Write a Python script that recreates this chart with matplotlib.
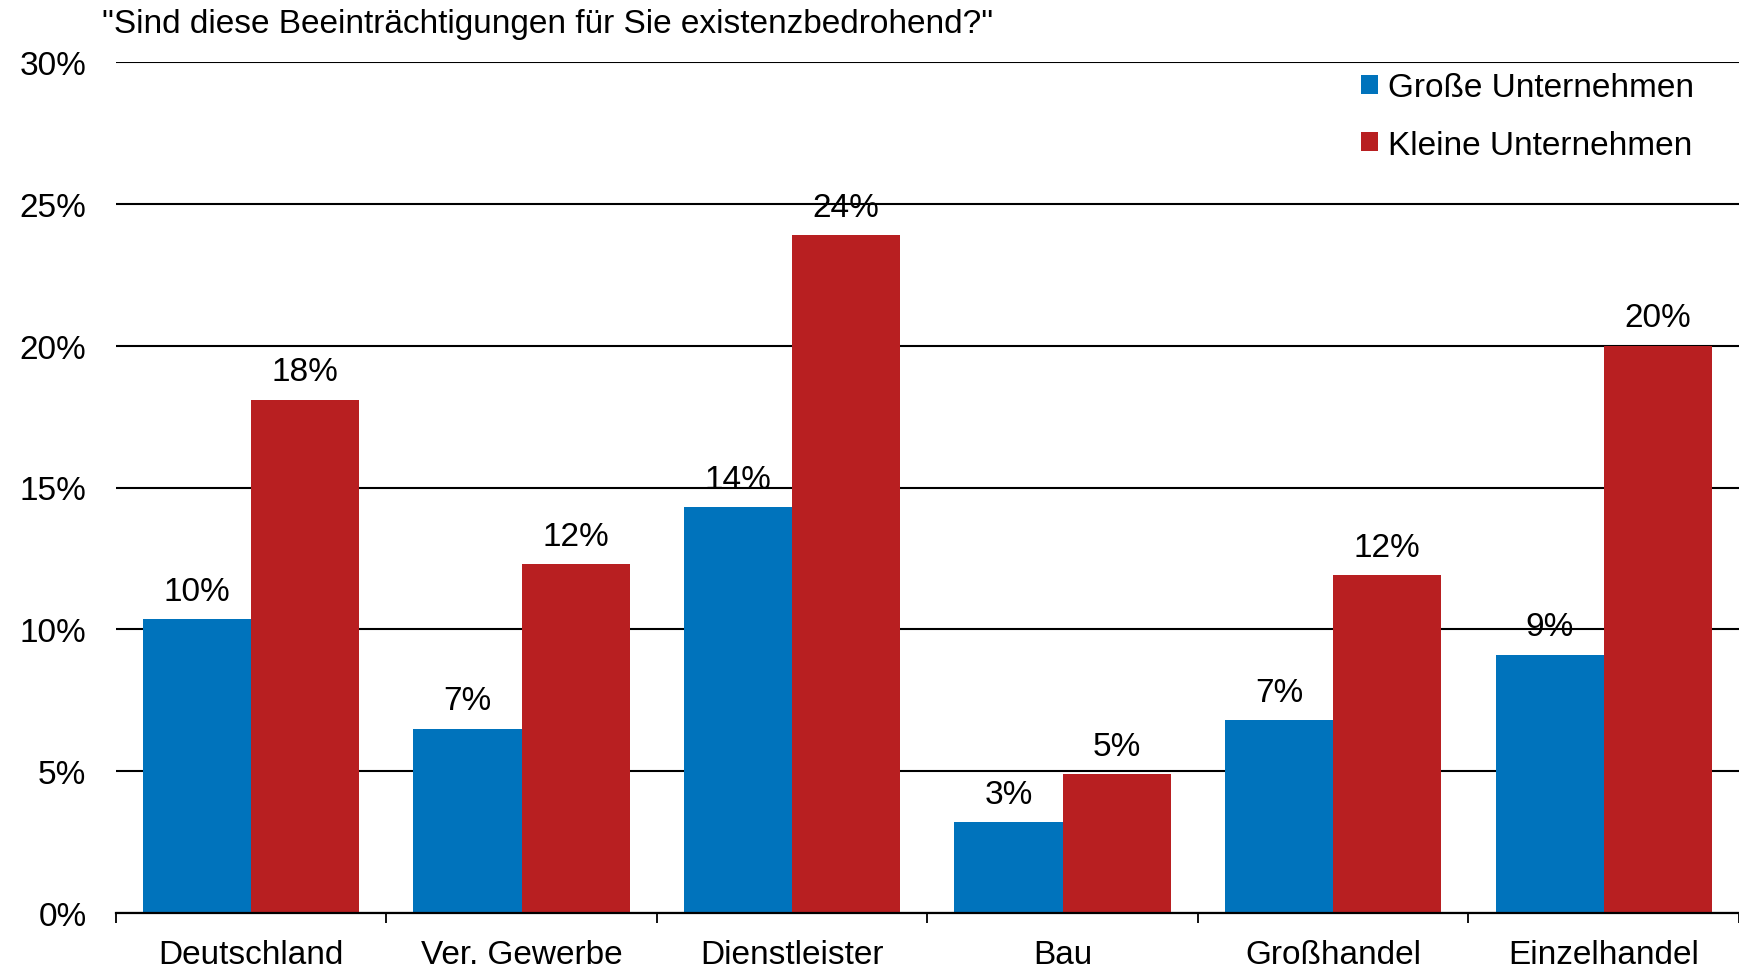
import matplotlib
matplotlib.use("Agg")
import matplotlib.pyplot as plt
from matplotlib.patches import Patch
import numpy as np

plt.rcParams['font.family'] = ['Liberation Sans', 'DejaVu Sans']

title = '"Sind diese Beeinträchtigungen für Sie existenzbedrohend?"'
categories = ["Deutschland", "Ver. Gewerbe", "Dienstleister", "Bau", "Großhandel", "Einzelhandel"]
series_names = ["Große Unternehmen", "Kleine Unternehmen"]
gross = [10.35, 6.5, 14.3, 3.2, 6.8, 9.1]
klein = [18.1, 12.3, 23.9, 4.9, 11.9, 20.0]
gross_labels = ["10%", "7%", "14%", "3%", "7%", "9%"]
klein_labels = ["18%", "12%", "24%", "5%", "12%", "20%"]
yticks = [0, 5, 10, 15, 20, 25, 30]
ytick_labels = ["0%", "5%", "10%", "15%", "20%", "25%", "30%"]

blue = "#0073BC"
red = "#B81F21"
FS = 24

fig = plt.figure(figsize=(17.39, 9.70), dpi=100)
ax = fig.add_axes([115.7/1739, 1-914/970, (1739-115.7)/1739, (914-63)/970])

x = np.arange(len(categories))
w = 0.4
b1 = ax.bar(x - w/2, gross, width=w, color=blue, zorder=1)
b2 = ax.bar(x + w/2, klein, width=w, color=red, zorder=1)

for rects, labs in ((b1, gross_labels), (b2, klein_labels)):
    for r, lab in zip(rects, labs):
        ax.annotate(lab, (r.get_x() + r.get_width()/2, r.get_height()),
                    xytext=(0, 14), textcoords="offset points",
                    ha="center", va="baseline", fontsize=FS, zorder=0.3)

ax.set_xlim(-0.5, 5.468)
ax.set_ylim(0, 30)
ax.set_yticks(yticks)
ax.set_yticklabels(ytick_labels)
ax.set_axisbelow(True)
ax.yaxis.grid(True, color="black", linewidth=1.5)
ax.tick_params(axis="y", length=0, pad=21, labelsize=FS)

ax.set_xticks(x)
ax.set_xticklabels(categories)
ax.set_xticks(np.arange(len(categories) + 1) - 0.5, minor=True)
ax.tick_params(axis="x", which="major", length=0, pad=19, labelsize=FS)
ax.tick_params(axis="x", which="minor", length=7, width=1.3, color="black")

for s in ("top", "left", "right"):
    ax.spines[s].set_visible(False)
ax.spines["bottom"].set_linewidth(1.6)
ax.spines["bottom"].set_zorder(3)

fig.text(102/1739, 1 - 24/970, title, fontsize=FS, ha="left", va="center")

handles = [Patch(facecolor=blue), Patch(facecolor=red)]
leg = fig.legend(handles, series_names, loc="upper left",
                 bbox_to_anchor=(1361/1739, 1 - 73/970), frameon=False,
                 fontsize=FS, handlelength=0.5, handleheight=0.5,
                 handletextpad=0.3, labelspacing=0.8, borderpad=0, borderaxespad=0)

fig.savefig("out.png", dpi=100)
